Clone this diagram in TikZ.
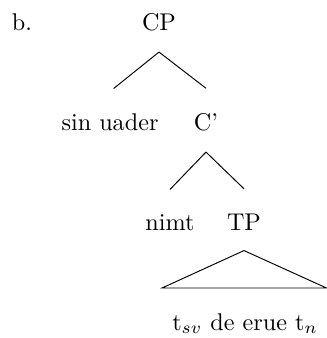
\documentclass[tikz,border=0pt]{standalone}
\usetikzlibrary{calc}

\begin{document}
\begin{tikzpicture}[x=0.01453cm,y=-0.01453cm,
  word/.style={inner sep=0pt,anchor=base}]
\useasboundingbox (0,0) rectangle (327,338);
\path (22,30) node[word] (lbl) {b.};
\path (159,30) node[word] (CP) {CP};
\path (110,130) node[word] (SU) {sin uader};
\path (206,130) node[word] (Cbar) {C'};
\path (170,230) node[word] (nimt) {nimt};
\path (244,230) node[word] (TP) {TP};
\path (245,330) node[word] (yield) {t$_{sv}$ de erue t$_n$};
\draw ([yshift=-8.7pt]CP.south) -- ([xshift=1.5pt,yshift=10pt]SU.north);
\draw ([yshift=-8.7pt]CP.south) -- ([yshift=10pt]Cbar.north);
\draw ([yshift=-8.7pt]Cbar.south) -- ([yshift=10pt]nimt.north);
\draw ([yshift=-8.7pt]Cbar.south) -- ([yshift=10pt]TP.north);
\coordinate (baseL) at (162,288);
\coordinate (baseR) at (326.5,288);
\draw ([yshift=-8.3pt]TP.south) -- (baseL) -- (baseR) -- cycle;
\end{tikzpicture}
\end{document}
